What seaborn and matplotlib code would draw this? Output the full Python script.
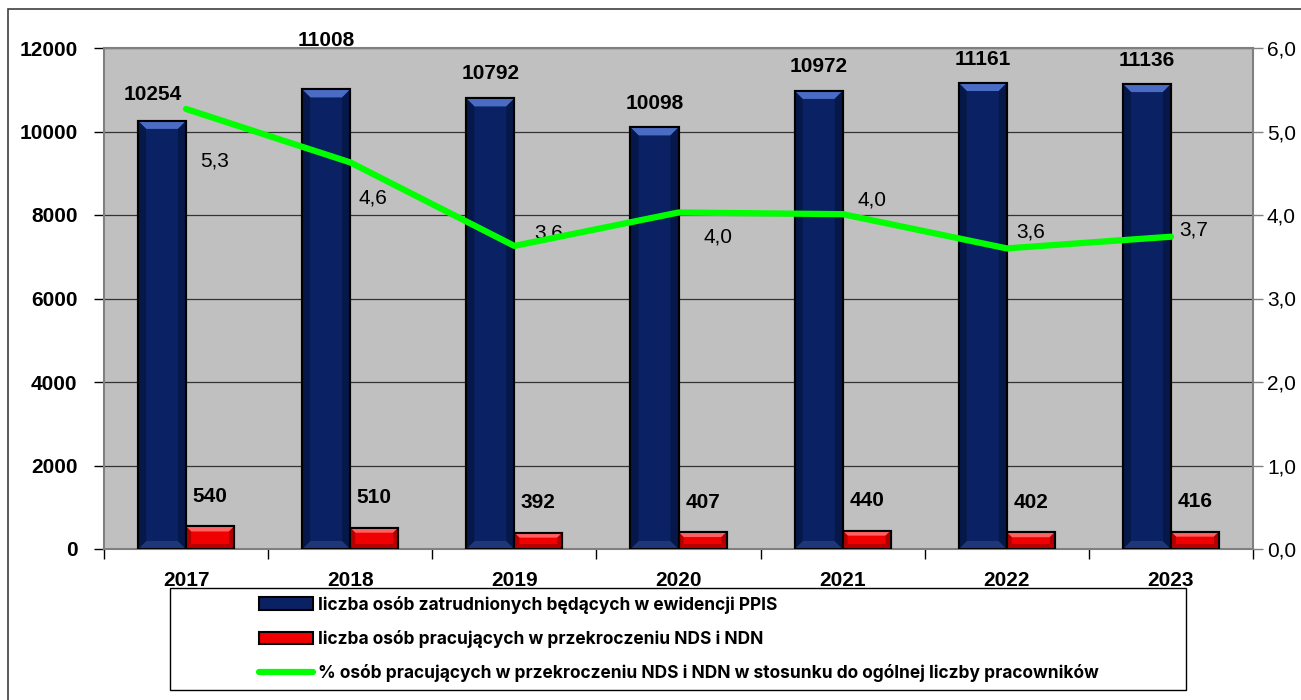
import numpy as np
import pandas as pd
import matplotlib
matplotlib.use("Agg")
import matplotlib.pyplot as plt
import seaborn as sns
from matplotlib.patches import Rectangle, Polygon, Patch
from matplotlib.lines import Line2D
from matplotlib.ticker import FuncFormatter

years = ["2017", "2018", "2019", "2020", "2021", "2022", "2023"]
employed = [10254, 11008, 10792, 10098, 10972, 11161, 11136]
exceeded = [540, 510, 392, 407, 440, 402, 416]
pct_exceeded = [5.27, 4.63, 3.63, 4.03, 4.01, 3.60, 3.74]

series_names = [
    "liczba osób zatrudnionych będących w ewidencji PPIS",
    "liczba osób pracujących w przekroczeniu NDS i NDN",
    "% osób pracujących w przekroczeniu NDS i NDN w stosunku do ogólnej liczby pracowników",
]

# label placement tweaks (pixels) - the excel labels sit a bit all over the place
pct_label_dx = [29, 23, 34, 40, 29, 24, 23]
pct_label_dy = [-52, -36, 13, -25, 14, 16, 7]
blue_label_lift = [26, 49, 25, 24, 24, 24, 24]
blue_label_dx = [-9, 0, 0, 0, 0, 0, 0]

NAVY = "#0A2163"
RED = "#F00000"
GREEN = "#00FF00"

sns.set_style("white")
plt.rcParams["font.family"] = ["Liberation Sans", "DejaVu Sans"]
plt.rcParams["text.color"] = "black"
plt.rcParams["xtick.color"] = "black"
plt.rcParams["ytick.color"] = "black"
plt.rcParams["xtick.labelcolor"] = "black"
plt.rcParams["ytick.labelcolor"] = "black"

W, H = 1301, 700
fig = plt.figure(figsize=(W / 100, H / 100), dpi=100)
ax = fig.add_axes([104 / W, 1 - 549 / H, (1253 - 104) / W, (549 - 48) / H])

df = pd.DataFrame({
    "year": years * 2,
    "value": employed + exceeded,
    "series": [series_names[0]] * len(years) + [series_names[1]] * len(years),
})

sns.barplot(data=df, x="year", y="value", hue="series", hue_order=series_names[:2],
            palette=[NAVY, RED], saturation=1, width=0.585, edgecolor="black",
            linewidth=1.5, legend=False, ax=ax, zorder=3)

ax.set_xlim(-0.5, 6.5)
ax.set_ylim(0, 12000)
ax.set_yticks(range(0, 12001, 2000))
ax.set_facecolor("#C0C0C0")
ax.set_axisbelow(True)
ax.grid(axis="y", color="#333333", lw=0.9)
ax.grid(axis="x", visible=False)
for s in ax.spines.values():
    s.set_color("#808080")
    s.set_linewidth(1.5)
ax.set_xlabel("")
ax.set_ylabel("")
ax.tick_params(axis="y", direction="out", length=7, width=1, color="black",
               pad=12, labelsize=15, left=True)
ax.tick_params(axis="x", which="major", length=0, pad=16, labelsize=15)
ax.set_xticks(np.arange(-0.5, 7, 1), minor=True)
ax.tick_params(axis="x", which="minor", direction="out", length=7, width=1,
               color="black", bottom=True)
for lab in ax.get_yticklabels() + ax.get_xticklabels():
    lab.set_fontweight("bold")

# bevelled look of the excel bars
px_x = ax.get_position().width * W / 7.0
px_y = ax.get_position().height * H / 12000.0
bars = list(ax.patches)
for i, p in enumerate(bars):
    x0, y0 = p.get_x(), p.get_y()
    x1, y1 = x0 + p.get_width(), y0 + p.get_height()
    blue = i < len(years)
    b = 8 if blue else 5
    bx, by = b / px_x, b / px_y
    if blue:
        c_top, c_bot, c_side = "#4A6CC4", "#1D3779", "#051849"
    else:
        c_top, c_bot, c_side = "#FF6060", "#B80000", "#B00000"
    shapes = [
        ([(x0, y1), (x1, y1), (x1 - bx, y1 - by), (x0 + bx, y1 - by)], c_top),
        ([(x0, y0), (x1, y0), (x1 - bx, y0 + by), (x0 + bx, y0 + by)], c_bot),
        ([(x0, y0), (x0, y1), (x0 + bx, y1 - by), (x0 + bx, y0 + by)], c_side),
        ([(x1, y0), (x1, y1), (x1 - bx, y1 - by), (x1 - bx, y0 + by)], c_side),
    ]
    for pts, c in shapes:
        ax.add_patch(Polygon(pts, closed=True, facecolor=c, edgecolor="none", zorder=3.1))
    ax.add_patch(Rectangle((x0, y0), x1 - x0, y1 - y0, fill=False,
                           edgecolor="black", lw=1.5, zorder=3.2))

# value labels above bars
for i, p in enumerate(bars):
    cx = p.get_x() + p.get_width() / 2
    top = p.get_height()
    if i < len(years):
        txt, lift, dx = f"{employed[i]}", blue_label_lift[i], blue_label_dx[i]
    else:
        j = i - len(years)
        txt, lift, dx = f"{exceeded[j]}", 30, 0
    ax.annotate(txt, (cx, top), xytext=(dx, lift), textcoords="offset pixels",
                ha="center", va="center", fontsize=15, fontweight="bold",
                color="black", annotation_clip=False, zorder=5)

# percentage line on the secondary axis
ax2 = ax.twinx()
sns.lineplot(x=np.arange(len(years)), y=pct_exceeded, ax=ax2, color=GREEN,
             lw=4.5, solid_capstyle="round", zorder=4)
ax2.set_ylim(0, 6)
ax2.set_yticks(range(7))
ax2.yaxis.set_major_formatter(FuncFormatter(lambda v, _: f"{v:.1f}".replace(".", ",")))
ax2.tick_params(axis="y", direction="out", length=7, width=1, color="#808080",
                pad=3, labelsize=15, right=True, labelcolor="black")
ax2.set_ylabel("")
for s in ax2.spines.values():
    s.set_visible(False)
ax2.set_xlim(-0.5, 6.5)

for i, v in enumerate(pct_exceeded):
    ax2.annotate(f"{v:.1f}".replace(".", ","), (i, v),
                 xytext=(pct_label_dx[i], pct_label_dy[i]), textcoords="offset pixels",
                 ha="center", va="center", fontsize=15, color="black")

# legend in its own box under the chart
handles = [
    Patch(facecolor=NAVY, edgecolor="black", lw=1.5),
    Patch(facecolor=RED, edgecolor="black", lw=1.5),
    Line2D([], [], color=GREEN, lw=4.5, solid_capstyle="round"),
]
fig.legend(handles, series_names, loc="center left",
           bbox_to_anchor=(259 / W, 1 - 639 / H), frameon=False,
           borderpad=0, borderaxespad=0, handlelength=3.1, handleheight=0.7,
           handletextpad=0.3, labelspacing=0.95,
           prop={"family": ["Inter", "DejaVu Sans"], "weight": "bold", "size": 12.5})
fig.add_artist(Rectangle((170 / W, 1 - 690 / H), (1186 - 170) / W, (690 - 588) / H,
                         transform=fig.transFigure, fill=False, edgecolor="black", lw=1))
# outer chart frame (cut by the screenshot on the right and bottom)
fig.add_artist(Rectangle((8 / W, -0.05), 1.1, 1 - 9 / H + 0.05,
                         transform=fig.transFigure, fill=False, edgecolor="#404040", lw=1.2))

fig.savefig("out.png", dpi=100)
